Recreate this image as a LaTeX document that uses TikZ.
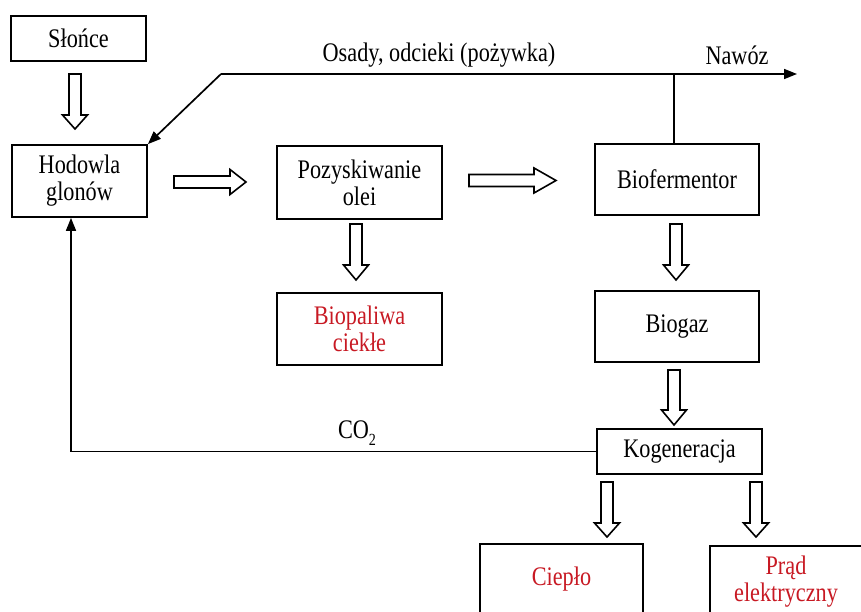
\documentclass[tikz,border=0pt]{standalone}
\usepackage{fontspec}
\setmainfont{Liberation Serif}[FakeStretch=0.83]
\usetikzlibrary{arrows.meta}
\definecolor{txtred}{RGB}{200,25,35}
\newcommand\hollowarrow[4]{%
  \draw[hollowarr, shift={#1}, rotate=#2] (0,6) -- ({#3-#4},6) -- ({#3-#4},12.5) -- (#3,0) -- ({#3-#4},-12.5) -- ({#3-#4},-6) -- (0,-6) -- cycle;}
\begin{document}
\begin{tikzpicture}[x=1pt,y=-1pt,
  every node/.style={font=\fontsize{26.8}{27}\selectfont},
  box/.style={draw, line width=1.8pt, align=center, inner sep=0pt},
  redbox/.style={box, text=txtred},
  line/.style={line width=1.7pt},
  tip/.style={-{Triangle[length=13pt,width=10pt]}},
  hollowarr/.style={draw, line width=1.6pt, fill=white, line join=miter},
  lbl/.style={inner sep=0pt}]
\useasboundingbox (0,0) rectangle (861,612);
\clip (0,0) rectangle (861,612);
\fill[white] (0,0) rectangle (861,612);
% boxes
\node[box, minimum width=135pt, minimum height=45pt] (slonce) at (78.5,38.5) {Słońce};
\node[box, minimum width=135pt, minimum height=72pt] (hod) at (79.5,181) {Hodowla\\glonów};
\node[box, minimum width=165pt, minimum height=73pt] (poz) at (359.5,182.5) {Pozyskiwanie\\olei};
\node[box, minimum width=164pt, minimum height=71pt] (bio) at (677,179.5) {Biofermentor};
\node[redbox, minimum width=165pt, minimum height=72pt] (paliwa) at (359.5,329) {Biopaliwa\\ciekłe};
\node[box, minimum width=164pt, minimum height=71pt] (biogaz) at (677,326.5) {Biogaz};
\node[box, minimum width=165pt, minimum height=45pt] (kog) at (679.5,451.5) {Kogeneracja};
\node[redbox, minimum width=163pt, minimum height=70pt] (cieplo) at (561.5,579) {Ciepło};
\node[redbox, minimum width=152pt, minimum height=72pt] (prad) at (786,582) {Prąd\\elektryczny};
% thin connectors
\coordinate (tl) at (221,74);
\coordinate (tr) at (797,74);
\draw[line, tip] (tl) -- (hod.north east);
\draw[line, tip] (tl) -- (tr);
\draw[line] ([xshift=-3pt]bio.north) -- ([xshift=-3pt]bio.north |- tl);
\coordinate (co2end) at ([xshift=-8.5pt]hod.south);
\draw[line, tip] (kog.west) -| (co2end);
% labels
\node[lbl] (osady) at (439,55) {Osady, odcieki (pożywka)};
\node[lbl] (nawoz) at (737,55) {Nawóz};
\node[lbl] (co2) at (357,433) {CO\raisebox{-7pt}{\fontsize{17}{17}\selectfont 2}};
% hollow arrows
\hollowarrow{(75,74)}{-90}{55}{14}
\hollowarrow{(174,182)}{0}{72}{16}
\hollowarrow{(469,180.5)}{0}{87}{22}
\hollowarrow{(356,224)}{-90}{56}{15}
\hollowarrow{(676,224)}{-90}{56}{15}
\hollowarrow{(674,370)}{-90}{55}{15}
\hollowarrow{(607,482)}{-90}{55}{14}
\hollowarrow{(756,482)}{-90}{55}{14}
\end{tikzpicture}
\end{document}
